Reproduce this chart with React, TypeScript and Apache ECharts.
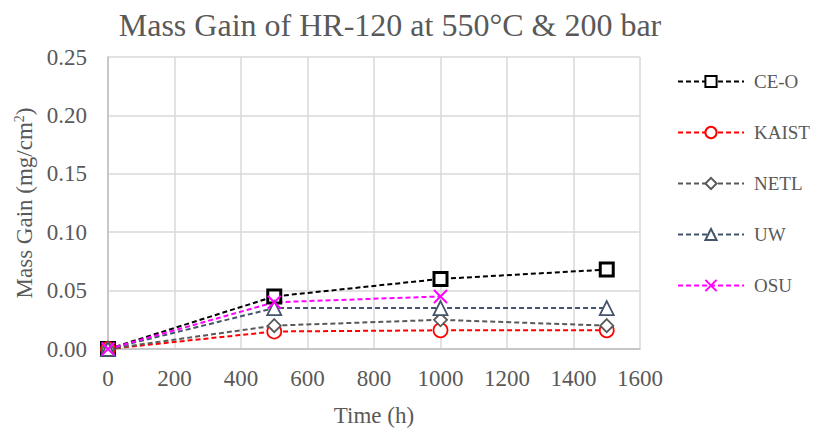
import React, { useEffect, useRef } from "react";
import * as echarts from "echarts";

const hours = [0, 500, 1000, 1500];
const ceo = [0, 0.045, 0.06, 0.068];
const kaist = [0, 0.015, 0.016, 0.016];
const netl = [0, 0.02, 0.025, 0.02];
const uw = [0, 0.035, 0.035, 0.035];
const osu = [0, 0.04, 0.045];

const FONT = "'Liberation Serif', 'Times New Roman', serif";
const TEXT = "#595959";

const pairs = (ys: number[]) => ys.map((y, i) => [hours[i], y]);

export default function App() {
  const ref = useRef<HTMLDivElement>(null);
  useEffect(() => {
    if (!ref.current) return;
    const chart = echarts.init(ref.current, undefined, { renderer: "svg" });
    const mk = (
      name: string,
      ys: number[],
      color: string,
      symbol: string,
      size: number,
      bw: number
    ) => ({
      name,
      type: "line",
      data: pairs(ys),
      symbol,
      symbolSize: size,
      showAllSymbol: true,
      lineStyle: { color, width: 2, type: [5, 3] },
      itemStyle: { color: "#ffffff", borderColor: color, borderWidth: bw },
      emphasis: { disabled: true },
    });
    chart.setOption({
      animation: false,
      backgroundColor: "#ffffff",
      title: {
        text: "Mass Gain of HR-120 at 550°C & 200 bar",
        left: 385,
        top: 4,
        textAlign: "center",
        textStyle: { fontFamily: FONT, fontSize: 32, fontWeight: "normal", color: TEXT },
      },
      legend: {
        orient: "vertical",
        left: 677,
        top: 72,
        padding: 0,
        itemWidth: 66,
        itemHeight: 14,
        itemGap: 32,
        textStyle: { fontFamily: FONT, fontSize: 19, color: TEXT, padding: [0, 0, 0, 5] },
        data: ["CE-O", "KAIST", "NETL", "UW", "OSU"],
      },
      grid: { left: 108, right: 181, top: 57, bottom: 80 },
      xAxis: {
        type: "value",
        min: 0,
        max: 1600,
        interval: 200,
        name: "Time (h)",
        nameLocation: "middle",
        nameGap: 55,
        nameTextStyle: { fontFamily: FONT, fontSize: 23, color: TEXT },
        axisLine: { show: true, lineStyle: { color: "#BFBFBF", width: 1.5 } },
        axisTick: { show: false },
        axisLabel: {
          fontFamily: FONT,
          fontSize: 23,
          color: TEXT,
          margin: 18,
          formatter: (v: number) => String(v),
        },
        splitLine: { show: true, lineStyle: { color: "#D9D9D9", width: 1.5 } },
      },
      yAxis: {
        type: "value",
        min: 0,
        max: 0.25,
        interval: 0.05,
        name: "Mass Gain (mg/cm{sup|2})",
        nameLocation: "middle",
        nameGap: 72,
        nameRotate: 90,
        nameTextStyle: {
          fontFamily: FONT,
          fontSize: 23,
          color: TEXT,
          rich: {
            sup: { fontFamily: FONT, fontSize: 14, color: TEXT, verticalAlign: "top", padding: [0, 0, 10, 0] },
          },
        },
        axisLine: { show: true, lineStyle: { color: "#BFBFBF", width: 1.5 } },
        axisTick: { show: false },
        axisLabel: {
          fontFamily: FONT,
          fontSize: 23,
          color: TEXT,
          margin: 21,
          formatter: (v: number) => v.toFixed(2),
        },
        splitLine: { show: true, lineStyle: { color: "#D9D9D9", width: 1.5 } },
      },
      series: [
        mk("CE-O", ceo, "#000000", "rect", 13, 3),
        mk("KAIST", kaist, "#FF0000", "circle", 14, 1.8),
        mk("NETL", netl, "#595959", "diamond", 13, 1.8),
        mk("UW", uw, "#44546A", "triangle", 14, 1.8),
        mk("OSU", osu, "#FF00FF", "path://M0,0L10,10M10,0L0,10", 13, 2),
      ],
    });
    return () => chart.dispose();
  }, []);
  return <div ref={ref} style={{ width: 821, height: 432, position: "absolute", left: 0, top: 0 }} />;
}
